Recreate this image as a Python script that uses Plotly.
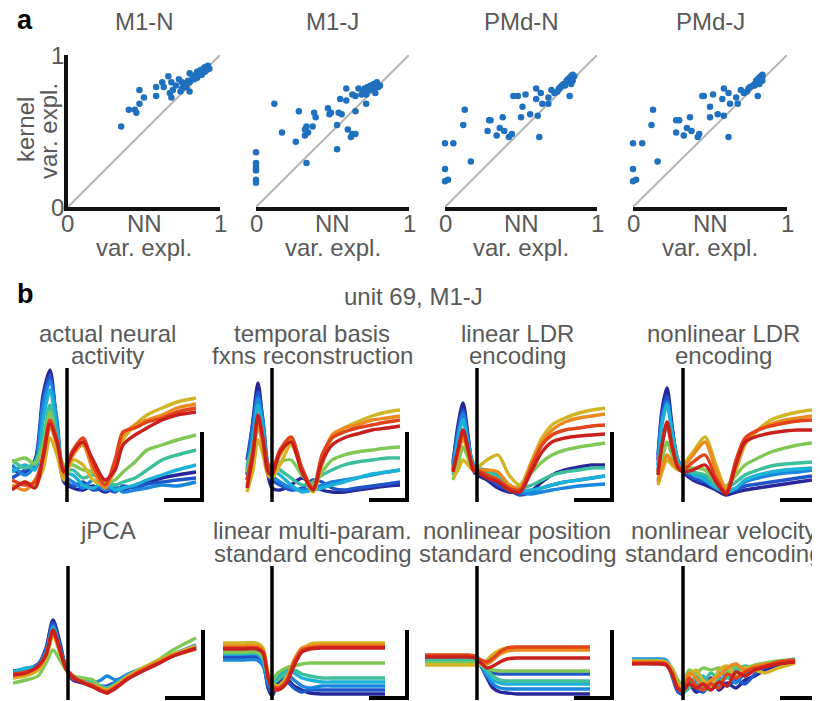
import plotly.graph_objects as go

W, H = 820, 701
OFF = 8   # page body margin of the browser
FONT = "Liberation Sans, Arial, Helvetica, sans-serif"
GRAY = "#595959"
DOT = "#1f70be"
FS = 24

# ---------------- panel a: kernel vs NN variance explained ----------------
a_titles = ["M1-N", "M1-J", "PMd-N", "PMd-J"]
a_xticks = [0, 0.5, 1]
a_xticktext = ["0", "NN", "1"]
a_yticks = [0, 1]
a_yticktext = ["0", "1"]

m1n_nn = [0.35, 0.40, 0.44, 0.45, 0.47, 0.47, 0.50, 0.58, 0.58, 0.62, 0.63, 0.66, 0.67, 0.68, 0.68,
          0.69, 0.73, 0.74, 0.75, 0.75, 0.77, 0.80, 0.80, 0.80, 0.82, 0.85, 0.85, 0.87, 0.88, 0.89,
          0.90, 0.91, 0.92, 0.93, 0.86, 0.84, 0.78, 0.71, 0.88, 0.90, 0.86, 0.83, 0.79, 0.76]
m1n_kernel = [0.53, 0.64, 0.64, 0.62, 0.77, 0.68, 0.72, 0.73, 0.79, 0.82, 0.79, 0.86, 0.75, 0.82, 0.72,
              0.77, 0.84, 0.76, 0.82, 0.78, 0.81, 0.76, 0.82, 0.88, 0.86, 0.89, 0.85, 0.90, 0.87, 0.91,
              0.89, 0.90, 0.93, 0.91, 0.87, 0.87, 0.79, 0.80, 0.88, 0.92, 0.89, 0.84, 0.83, 0.80]

m1j_nn = [0.12, 0.17, 0.26, 0.28, 0.32, 0.33, 0.32, 0.34, 0.33, 0.37, 0.38, 0.39, 0.47, 0.48, 0.49,
          0.53, 0.53, 0.54, 0.56, 0.55, 0.59, 0.59, 0.60, 0.62, 0.63, 0.65, 0.65, 0.63, 0.65, 0.67,
          0.69, 0.70, 0.71, 0.72, 0.72, 0.73, 0.74, 0.75, 0.76, 0.77, 0.78, 0.79, 0.80, 0.81, 0.78,
          0.77, 0.0, 0.0, 0.0, 0.0, 0.0, 0.0, 0.0]
m1j_kernel = [0.68, 0.49, 0.43, 0.63, 0.51, 0.53, 0.47, 0.49, 0.29, 0.53, 0.62, 0.59, 0.65, 0.61, 0.62,
              0.54, 0.38, 0.62, 0.61, 0.71, 0.78, 0.70, 0.51, 0.46, 0.48, 0.48, 0.63, 0.74, 0.73, 0.78,
              0.74, 0.76, 0.78, 0.74, 0.68, 0.79, 0.77, 0.80, 0.78, 0.81, 0.75, 0.82, 0.79, 0.80, 0.79,
              0.77, 0.36, 0.29, 0.27, 0.25, 0.24, 0.18, 0.16]

pmdn_nn = [0.0, 0.055, 0.0, 0.0, 0.02, 0.13, 0.12, 0.17, 0.28, 0.29, 0.30, 0.34, 0.36, 0.38, 0.39,
           0.42, 0.44, 0.45, 0.48, 0.51, 0.50, 0.53, 0.56, 0.60, 0.60, 0.61, 0.62, 0.63, 0.64, 0.68,
           0.68, 0.70, 0.72, 0.74, 0.75, 0.76, 0.77, 0.78, 0.80, 0.81, 0.82, 0.83, 0.84, 0.82, 0.79,
           0.80, 0.82, 0.83, 0.85, 0.84, 0.83]
pmdn_kernel = [0.42, 0.42, 0.25, 0.17, 0.18, 0.64, 0.54, 0.30, 0.50, 0.57, 0.57, 0.47, 0.52, 0.59, 0.50,
               0.46, 0.48, 0.73, 0.73, 0.66, 0.59, 0.74, 0.61, 0.78, 0.71, 0.60, 0.46, 0.75, 0.68, 0.72,
               0.68, 0.77, 0.75, 0.76, 0.78, 0.79, 0.80, 0.81, 0.83, 0.84, 0.85, 0.86, 0.87, 0.73, 0.80,
               0.82, 0.83, 0.85, 0.86, 0.83, 0.81]

pmdj_nn = [0.0, 0.06, 0.0, 0.0, 0.02, 0.13, 0.12, 0.16, 0.28, 0.28, 0.30, 0.33, 0.35, 0.37, 0.38,
           0.42, 0.43, 0.45, 0.46, 0.50, 0.50, 0.52, 0.55, 0.59, 0.58, 0.59, 0.62, 0.62, 0.63, 0.67,
           0.68, 0.70, 0.72, 0.74, 0.75, 0.76, 0.78, 0.79, 0.80, 0.81, 0.82, 0.83, 0.84, 0.81, 0.79,
           0.80, 0.81, 0.83, 0.84, 0.84, 0.82]
pmdj_kernel = [0.42, 0.42, 0.25, 0.17, 0.18, 0.64, 0.54, 0.30, 0.49, 0.57, 0.57, 0.47, 0.52, 0.59, 0.50,
               0.46, 0.48, 0.73, 0.73, 0.66, 0.59, 0.74, 0.61, 0.78, 0.71, 0.60, 0.46, 0.75, 0.68, 0.72,
               0.68, 0.77, 0.75, 0.76, 0.78, 0.79, 0.80, 0.81, 0.83, 0.84, 0.85, 0.86, 0.87, 0.73, 0.80,
               0.82, 0.83, 0.85, 0.86, 0.83, 0.81]

a_nn = [m1n_nn, m1j_nn, pmdn_nn, pmdj_nn]
a_kernel = [m1n_kernel, m1j_kernel, pmdn_kernel, pmdj_kernel]

# ---------------- panel b: unit 69, M1-J, condition-averaged rates ----------------
b_titles = [["actual neural", "activity"], ["temporal basis", "fxns reconstruction"],
            ["linear LDR", "encoding"], ["nonlinear LDR", "encoding"], ["jPCA"],
            ["linear multi-param.", "standard encoding"], ["nonlinear position", "standard encoding"],
            ["nonlinear velocity", "standard encoding"]]

cond_colors = ["#27279a", "#1f55c8", "#1a86de", "#1cb2d8", "#3cbf9a",
               "#80c855", "#d2b526", "#ec8a1e", "#e2431a", "#c8201c"]

# time (ms, movement onset = 0)
t_actual = [-550, -420, -320, -240, -170, -100, -30, 60, 160, 260, 380, 480, 560, 680, 800, 950, 1100, 1290]
r_actual = [
    [30, 28, 40, 105, 130, 70, 18, 12, 10, 14, 8, 12, 10, 15, 18, 22, 25, 28],
    [22, 30, 38, 100, 124, 75, 22, 14, 18, 10, 12, 8, 14, 12, 16, 18, 20, 22],
    [35, 25, 35, 95, 118, 80, 25, 18, 12, 20, 10, 14, 8, 10, 12, 15, 14, 18],
    [28, 35, 30, 80, 110, 70, 28, 25, 15, 12, 18, 10, 12, 15, 20, 25, 30, 35],
    [40, 32, 38, 60, 95, 60, 30, 30, 22, 25, 20, 15, 18, 22, 30, 40, 45, 50],
    [38, 42, 36, 55, 88, 55, 35, 35, 30, 28, 18, 20, 28, 38, 50, 55, 60, 65],
    [12, 18, 15, 30, 62, 45, 20, 40, 35, 20, 15, 30, 60, 75, 85, 92, 98, 102],
    [15, 10, 20, 40, 72, 55, 25, 45, 55, 30, 12, 35, 65, 75, 80, 85, 92, 96],
    [20, 15, 18, 45, 80, 60, 30, 50, 62, 35, 15, 40, 68, 72, 78, 82, 88, 92],
    [10, 18, 12, 42, 76, 58, 28, 48, 58, 40, 20, 30, 55, 65, 72, 80, 85, 88],
]

t_basis = [-250, -190, -140, -90, -40, 0, 80, 190, 300, 410, 500, 600, 720, 850, 1000, 1150, 1280]
r_basis = [
    [25, 80, 117, 75, 25, 12, 10, 15, 22, 15, 10, 8, 8, 10, 12, 14, 15],
    [40, 78, 108, 80, 30, 20, 15, 10, 12, 20, 18, 12, 10, 12, 14, 16, 18],
    [30, 70, 102, 78, 35, 25, 18, 12, 10, 12, 15, 18, 20, 22, 25, 28, 30],
    [20, 60, 95, 70, 32, 30, 25, 15, 8, 10, 12, 15, 18, 22, 26, 28, 30],
    [35, 55, 80, 60, 35, 35, 30, 22, 15, 18, 25, 30, 35, 38, 40, 42, 42],
    [28, 50, 72, 55, 30, 32, 38, 40, 25, 15, 28, 40, 45, 48, 50, 52, 53],
    [8, 30, 60, 45, 25, 22, 35, 55, 30, 8, 35, 62, 72, 78, 84, 88, 90],
    [15, 45, 75, 55, 30, 28, 45, 60, 30, 10, 40, 65, 72, 75, 80, 82, 84],
    [20, 50, 82, 62, 35, 30, 50, 63, 32, 12, 45, 62, 68, 72, 75, 78, 80],
    [12, 45, 85, 60, 28, 25, 48, 58, 28, 10, 38, 55, 62, 66, 70, 72, 74],
]

t_lin_ldr = [-240, -190, -140, -90, -40, 0, 100, 210, 320, 430, 550, 650, 750, 880, 1020, 1150, 1280]
r_lin_ldr = [
    [35, 75, 97, 65, 30, 25, 20, 12, 8, 8, 10, 18, 25, 30, 33, 35, 35],
    [38, 70, 90, 62, 32, 28, 22, 15, 10, 5, 8, 12, 15, 18, 20, 22, 24],
    [30, 65, 86, 60, 35, 30, 28, 25, 12, 8, 6, 8, 10, 12, 14, 15, 16],
    [32, 60, 80, 55, 38, 32, 30, 26, 15, 10, 10, 12, 15, 18, 20, 22, 24],
    [25, 45, 65, 50, 35, 30, 28, 22, 12, 12, 15, 20, 25, 28, 30, 32, 32],
    [20, 35, 53, 42, 30, 28, 25, 20, 10, 15, 28, 38, 45, 50, 53, 55, 57],
    [22, 30, 40, 35, 30, 32, 40, 45, 25, 15, 40, 62, 75, 82, 87, 90, 92],
    [28, 45, 62, 48, 32, 30, 30, 28, 15, 12, 38, 58, 70, 78, 82, 84, 86],
    [30, 50, 68, 50, 34, 30, 25, 20, 12, 10, 35, 55, 65, 70, 72, 74, 75],
    [28, 50, 70, 52, 30, 28, 22, 18, 10, 8, 30, 48, 58, 62, 64, 65, 66],
]

t_nl_ldr = [-250, -210, -160, -110, -50, 0, 100, 220, 330, 430, 530, 620, 750, 880, 1020, 1150, 1290]
r_nl_ldr = [
    [40, 90, 112, 75, 35, 28, 20, 15, 10, 5, 8, 10, 12, 14, 16, 18, 20],
    [45, 85, 104, 72, 38, 30, 22, 18, 12, 8, 10, 14, 16, 18, 20, 22, 24],
    [35, 80, 98, 70, 40, 32, 28, 22, 14, 10, 12, 18, 22, 25, 27, 28, 30],
    [30, 75, 95, 68, 38, 30, 26, 20, 12, 8, 12, 20, 25, 28, 30, 31, 32],
    [25, 55, 75, 55, 35, 30, 28, 25, 15, 12, 18, 25, 30, 34, 36, 37, 38],
    [20, 40, 58, 45, 32, 30, 32, 30, 18, 14, 25, 35, 42, 48, 52, 55, 57],
    [15, 28, 40, 35, 30, 35, 48, 63, 35, 12, 30, 55, 70, 80, 85, 88, 90],
    [18, 32, 45, 38, 32, 33, 45, 58, 30, 10, 35, 58, 70, 76, 80, 82, 84],
    [28, 55, 75, 52, 34, 30, 38, 45, 22, 8, 40, 62, 70, 74, 77, 79, 80],
    [25, 55, 78, 55, 32, 28, 30, 35, 18, 6, 35, 58, 64, 67, 69, 70, 70],
]

t_jpca = [-550, -420, -300, -220, -150, -80, -20, 50, 150, 250, 330, 390, 480, 600, 750, 900, 1050, 1280]
r_jpca = [
    [25, 28, 33, 50, 78, 55, 30, 18, 15, 12, 10, 8, 12, 20, 28, 35, 42, 52],
    [27, 29, 34, 48, 75, 52, 30, 20, 18, 14, 12, 12, 16, 22, 30, 36, 43, 50],
    [24, 28, 33, 46, 72, 50, 31, 22, 18, 15, 18, 22, 18, 24, 30, 37, 44, 53],
    [26, 30, 32, 45, 70, 48, 30, 20, 17, 14, 12, 10, 15, 22, 29, 36, 42, 51],
    [22, 26, 30, 44, 66, 46, 29, 22, 18, 15, 12, 10, 14, 20, 28, 35, 42, 50],
    [15, 18, 22, 35, 48, 38, 28, 22, 20, 18, 10, 5, 12, 22, 30, 38, 48, 60],
    [20, 22, 28, 40, 62, 45, 28, 20, 16, 12, 10, 8, 13, 22, 30, 37, 44, 52],
    [22, 24, 30, 42, 64, 46, 30, 21, 16, 13, 9, 7, 12, 20, 29, 36, 43, 50],
    [24, 26, 31, 44, 66, 47, 30, 22, 16, 12, 8, 6, 11, 20, 28, 35, 42, 49],
    [23, 25, 32, 43, 68, 48, 29, 20, 15, 11, 7, 5, 10, 19, 27, 34, 42, 50],
]

t_lin_mp = [-490, -300, -150, -90, -40, 0, 60, 140, 220, 300, 380, 500, 650, 800, 950, 1130]
r_lin_mp = [
    [40, 40, 40, 35, 10, 2, 15, 20, 12, 8, 5, 4, 4, 4, 4, 4],
    [42, 42, 42, 36, 12, 5, 22, 18, 10, 6, 8, 8, 8, 8, 8, 8],
    [38, 38, 38, 32, 15, 10, 25, 25, 18, 12, 10, 12, 12, 12, 12, 12],
    [44, 44, 44, 38, 18, 12, 20, 28, 25, 20, 18, 16, 16, 16, 16, 16],
    [45, 45, 45, 40, 20, 15, 18, 25, 28, 24, 22, 20, 20, 20, 20, 20],
    [46, 46, 46, 42, 22, 18, 25, 30, 32, 34, 35, 35, 35, 35, 35, 35],
    [55, 55, 55, 50, 25, 15, 12, 20, 35, 48, 54, 55, 55, 55, 55, 55],
    [52, 52, 52, 48, 24, 14, 10, 18, 38, 50, 52, 53, 53, 53, 53, 53],
    [50, 50, 50, 46, 22, 12, 10, 16, 35, 48, 50, 51, 51, 51, 51, 51],
    [49, 49, 49, 45, 20, 10, 8, 14, 32, 46, 49, 50, 50, 50, 50, 50],
]

t_nl_pos = [-520, -300, -100, -20, 40, 100, 160, 230, 300, 400, 550, 750, 950, 1130]
r_nl_pos = [
    [39, 39, 39, 38, 32, 20, 10, 6, 5, 4, 4, 4, 4, 4],
    [38, 38, 38, 37, 33, 28, 25, 24, 24, 24, 24, 24, 24, 24],
    [37, 37, 37, 36, 32, 22, 14, 10, 9, 9, 9, 9, 9, 9],
    [36, 36, 36, 36, 33, 25, 18, 15, 14, 14, 14, 14, 14, 14],
    [38, 38, 38, 37, 33, 28, 22, 18, 17, 17, 17, 17, 17, 17],
    [35, 35, 35, 35, 33, 30, 28, 27, 27, 27, 27, 27, 27, 27],
    [33, 33, 33, 33, 34, 38, 44, 48, 50, 50, 50, 50, 50, 50],
    [42, 42, 42, 41, 36, 34, 38, 44, 47, 48, 48, 48, 48, 48],
    [43, 43, 43, 42, 38, 36, 40, 46, 50, 51, 51, 51, 51, 51],
    [41, 41, 41, 40, 35, 30, 32, 36, 39, 40, 40, 40, 40, 40],
]

t_nl_vel = [-510, -300, -170, -110, -50, 0, 60, 130, 200, 280, 360, 440, 530, 620, 720, 820, 950, 1120]
r_nl_vel = [
    [38, 38, 37, 25, 8, 5, 15, 6, 10, 20, 8, 15, 10, 18, 22, 28, 33, 36],
    [37, 37, 36, 22, 6, 4, 18, 10, 6, 15, 20, 12, 18, 14, 24, 30, 34, 37],
    [39, 39, 38, 28, 10, 8, 12, 18, 8, 12, 25, 22, 15, 25, 28, 32, 35, 38],
    [38, 38, 37, 26, 12, 10, 20, 14, 22, 10, 14, 26, 30, 22, 30, 34, 36, 39],
    [37, 37, 36, 24, 9, 6, 10, 22, 15, 25, 18, 20, 28, 32, 30, 33, 36, 38],
    [36, 36, 35, 30, 18, 14, 28, 25, 30, 28, 30, 25, 32, 30, 33, 35, 37, 38],
    [37, 37, 36, 28, 14, 12, 22, 28, 18, 12, 28, 32, 22, 30, 28, 25, 30, 35],
    [36, 36, 35, 27, 12, 10, 25, 20, 12, 18, 22, 30, 34, 28, 32, 34, 35, 37],
    [35, 35, 34, 25, 10, 8, 20, 12, 8, 14, 10, 24, 20, 26, 30, 32, 36, 38],
    [34, 34, 33, 24, 9, 7, 14, 10, 14, 8, 16, 12, 26, 22, 28, 31, 34, 36],
]

b_times = [t_actual, t_basis, t_lin_ldr, t_nl_ldr, t_jpca, t_lin_mp, t_nl_pos, t_nl_vel]
b_rates = [r_actual, r_basis, r_lin_ldr, r_nl_ldr, r_jpca, r_lin_mp, r_nl_pos, r_nl_vel]

onset_line = [-2, 132]          # vertical marker at movement onset
scale_t = [970, 1350, 1350]     # scale bar (time)
scale_r = [0, 0, 68]            # scale bar (rate)

# ---------------- layout geometry (pixels in the reference) ----------------
a_x_px = [(68, 220), (256, 409), (445, 597), (633, 787)]
a_y_px = (207, 55)
b_onset_px = [67, 272, 477, 683, 68, 272, 477, 683]
b_base_px = [500, 500, 500, 500, 698, 698, 698, 698]
b_title_rows_px = [(333, 355)] * 4 + [(530, 553)] * 4
X_RANGE = [-550, 1370]
Y_RANGE = [-3, 140]

def px_x(p):
    return min(1.0, max(0.0, (p - OFF) / W))

def px_y(p):
    return min(1.0, max(0.0, 1 - (p - OFF) / H))

def text(t, x, y, xref="paper", yref="paper", size=FS, color=GRAY, angle=0, xanchor="center"):
    return dict(text=t, x=x, y=y, xref=xref, yref=yref, showarrow=False, textangle=angle,
                xanchor=xanchor, yanchor="middle", font=dict(size=size, color=color))

fig = go.Figure()
layout = dict(width=W, height=H, margin=dict(l=0, r=0, t=0, b=0, pad=0, autoexpand=False),
              paper_bgcolor="white", plot_bgcolor="rgba(0,0,0,0)", showlegend=False,
              font=dict(family=FONT, color=GRAY, size=FS))
annotations = []

# panel a
for i in range(4):
    k = i + 1
    xa, ya = ("x" if k == 1 else f"x{k}"), ("y" if k == 1 else f"y{k}")
    fig.add_trace(go.Scatter(x=[0, 1], y=[0, 1], mode="lines",
                             line=dict(color="#b5b5b5", width=2), xaxis=xa, yaxis=ya, hoverinfo="skip"))
    fig.add_trace(go.Scatter(x=a_nn[i], y=a_kernel[i], mode="markers", cliponaxis=False,
                             marker=dict(color=DOT, size=6.5), xaxis=xa, yaxis=ya))
    x0, x1 = a_x_px[i]
    layout[f"xaxis{'' if k == 1 else k}"] = dict(
        domain=[px_x(x0), px_x(x1)], range=[0, 1], showgrid=False, zeroline=False,
        showline=True, linecolor="#111", linewidth=3.5, showticklabels=False, ticks="",
        automargin=False, anchor=ya)
    yd = dict(domain=[px_y(a_y_px[0]), px_y(a_y_px[1])], range=[0, 1], showgrid=False,
              zeroline=False, anchor=xa, automargin=False, showticklabels=False, ticks="")
    if k == 1:
        yd.update(showline=True, linecolor="#111", linewidth=3.5)
    else:
        yd.update(visible=False)
    layout[f"yaxis{'' if k == 1 else k}"] = yd
    for v, s in zip(a_xticks, a_xticktext):
        annotations.append(text(s, v, px_y(223), xref=xa))
    annotations.append(text("var. expl.", 0.5, px_y(247), xref=xa))
    annotations.append(text(a_titles[i], px_x((x0 + x1) / 2), px_y(22)))

# y ticks and y title of the first scatter panel
for v, s in zip(a_yticks, a_yticktext):
    annotations.append(text(s, px_x(57), v, yref="y"))
annotations.append(text("kernel", px_x(26), px_y(130), angle=-90))
annotations.append(text("var. expl.", px_x(49), px_y(131), angle=-90))

# panel b
for j in range(8):
    k = j + 5
    xa, ya = f"x{k}", f"y{k}"
    on = b_onset_px[j]
    base = b_base_px[j]
    t = b_times[j]
    for c, vals in enumerate(b_rates[j]):
        fig.add_trace(go.Scatter(x=t, y=vals, mode="lines",
                                 line=dict(color=cond_colors[c], width=3.4, shape="spline", smoothing=0.8),
                                 xaxis=xa, yaxis=ya, hoverinfo="skip"))
    fig.add_trace(go.Scatter(x=[0, 0], y=onset_line, mode="lines", line=dict(color="black", width=3.5),
                             xaxis=xa, yaxis=ya, hoverinfo="skip"))
    fig.add_trace(go.Scatter(x=scale_t, y=scale_r, mode="lines", line=dict(color="black", width=4),
                             xaxis=xa, yaxis=ya, hoverinfo="skip", cliponaxis=False))
    layout[f"xaxis{k}"] = dict(domain=[px_x(on - 55), px_x(on + 137)], range=X_RANGE,
                               visible=False, anchor=ya)
    layout[f"yaxis{k}"] = dict(domain=[px_y(base + 3), px_y(base - 140)], range=Y_RANGE,
                               visible=False, anchor=xa)
    for line_txt, ypx in zip(b_titles[j], b_title_rows_px[j]):
        annotations.append(text(line_txt, 400, px_y(ypx), xref=xa))

annotations += [
    text("<b>a</b>", px_x(15), px_y(20), size=27, color="black", xanchor="left"),
    text("<b>b</b>", px_x(15), px_y(294), size=27, color="black", xanchor="left"),
    text("unit 69, M1-J", px_x(413), px_y(296)),
]
layout["annotations"] = annotations
fig.update_layout(**layout)
fig.write_html("out.html")
